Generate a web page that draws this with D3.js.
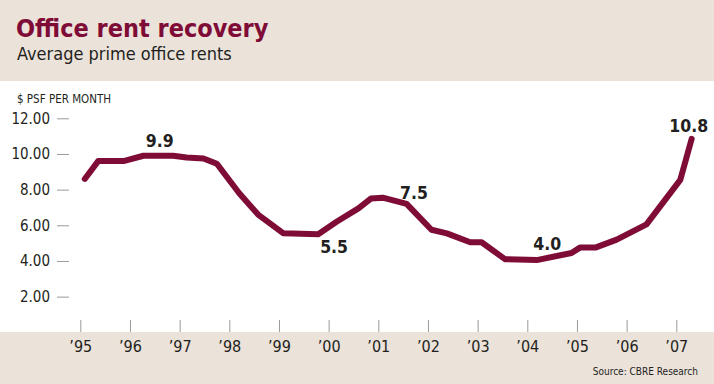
<!DOCTYPE html>
<html>
<head>
<meta charset="utf-8">
<script src="https://cdn.jsdelivr.net/npm/d3@7"></script>
<style>
  body { margin: 0; background: #fff; }
  svg text { font-family: 'Liberation Sans Narrow', 'DejaVu Sans Condensed', 'Roboto Condensed', 'Open Sans', sans-serif; font-stretch: condensed; fill: #231f20; }
</style>
</head>
<body>
<div id="chart"></div>
<script>
// quarterly-ish readings, decimal year
const periods = [1995.09, 1995.36, 1995.87, 1996.27, 1996.87, 1997.14, 1997.48, 1997.75, 1998.2, 1998.58,
  1999.09, 1999.79, 2000.16, 2000.6, 2000.85, 2001.09, 2001.57, 2002.07, 2002.38, 2002.85,
  2003.08, 2003.55, 2004.19, 2004.89, 2005.06, 2005.37, 2005.8, 2006.4, 2007.08, 2007.31]
const rents = [8.6, 9.6, 9.6, 9.9, 9.9, 9.8, 9.75, 9.45, 7.8, 6.6,
  5.55, 5.5, 6.2, 6.95, 7.5, 7.55, 7.2, 5.75, 5.55, 5.05,
  5.05, 4.1, 4.05, 4.45, 4.75, 4.75, 5.2, 6.05, 8.55, 10.85]

const yearTicks = [1995, 1996, 1997, 1998, 1999, 2000, 2001, 2002, 2003, 2004, 2005, 2006, 2007]
const rentTicks = [2, 4, 6, 8, 10, 12]

const labelText = ['9.9', '5.5', '7.5', '4.0', '10.8']
const labelYear = [1996.6, 2000.11, 2001.72, 2004.4, 2007.25]
const labelValue = [9.9, 5.5, 7.5, 4.0, 10.8]

const width = 714
const height = 384
const maroon = '#7e0c37'
const beige = '#ebe2da'

const svg = d3
  .select('#chart')
  .append('svg')
  .attr('width', width)
  .attr('height', height)

// bands
svg.append('rect').attr('width', width).attr('height', 81).attr('fill', beige)
svg.append('rect').attr('y', 332).attr('width', width).attr('height', height - 332).attr('fill', beige)

const xScale = d3.scaleLinear().domain([1995, 2007]).range([80.3, 676.3])
const yScale = d3.scaleLinear().domain([0, 12]).range([332.3, 118.3])

// titles
svg.append('text')
  .attr('x', 16)
  .attr('y', 37)
  .attr('font-size', 25)
  .attr('font-weight', 700)
  .style('fill', maroon)
  .text('Office rent recovery')

svg.append('text')
  .attr('x', 17)
  .attr('y', 60)
  .attr('font-size', 18)
  .text('Average prime office rents')

svg.append('text')
  .attr('x', 17)
  .attr('y', 103)
  .attr('font-size', 11.5)
  .text('$ PSF PER MONTH')

svg.append('text')
  .attr('x', 698)
  .attr('y', 375)
  .attr('font-size', 10)
  .attr('text-anchor', 'end')
  .text('Source: CBRE Research')

// y axis
const yAxis = d3.axisLeft(yScale)
  .tickValues(rentTicks)
  .tickSize(12)
  .tickPadding(7)
  .tickFormat(d3.format('.2f'))

const yG = svg.append('g')
  .attr('transform', 'translate(69,0)')
  .call(yAxis)
yG.select('.domain').remove()
yG.selectAll('line').attr('stroke', '#9a9a9a')
yG.selectAll('text').attr('font-size', 15).attr('font-family', null)

// x axis
const xAxis = d3.axisBottom(xScale)
  .tickValues(yearTicks)
  .tickSize(12)
  .tickPadding(9)
  .tickFormat(d => '\u2019' + String(d).slice(2))

const xG = svg.append('g')
  .attr('transform', 'translate(0,320)')
  .call(xAxis)
xG.select('.domain').remove()
xG.selectAll('line').attr('stroke', '#9a9a9a')
xG.selectAll('text').attr('font-size', 16).attr('font-family', null)

// line
const line = d3.line()
  .x((d, i) => xScale(periods[i]))
  .y(d => yScale(d))

svg.append('path')
  .datum(rents)
  .attr('d', line)
  .attr('fill', 'none')
  .attr('stroke', maroon)
  .attr('stroke-width', 6)
  .attr('stroke-linejoin', 'round')
  .attr('stroke-linecap', 'round')

// value call-outs
const labelOffset = [-9, 19, 0, -11, -8]
svg.selectAll('.callout')
  .data(labelText)
  .enter()
  .append('text')
  .attr('class', 'callout')
  .attr('x', (d, i) => xScale(labelYear[i]))
  .attr('y', (d, i) => yScale(labelValue[i]) + labelOffset[i])
  .attr('text-anchor', 'middle')
  .attr('font-size', 17.5)
  .attr('font-weight', 700)
  .text(d => d)
</script>
</body>
</html>
